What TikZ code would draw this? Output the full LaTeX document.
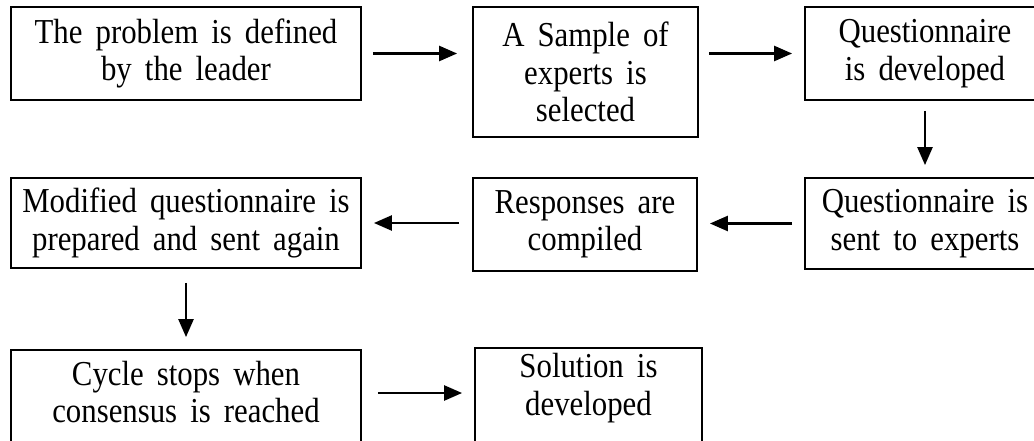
\documentclass[tikz,border=0pt]{standalone}
\usepackage{fontspec}
\setmainfont{Liberation Serif}[FakeStretch=0.88,WordSpace=1.7]
\usetikzlibrary{arrows.meta,calc}
\begin{document}
\begin{tikzpicture}[x=1pt,y=-1pt,
  stepbox/.style={draw=black, line width=1.8pt, inner sep=0pt, align=center,
    font=\fontsize{35}{37.5}\selectfont},
  steptext/.style={inner sep=0pt, align=center, font=\fontsize{35}{37.5}\selectfont},
  flow/.style={-{Triangle[length=18pt,width=15pt]}, line width=2.5pt}]
\useasboundingbox (0,0) rectangle (1034,441);
\clip (0,0) rectangle (1034,441);

% first row
\node[stepbox, minimum width=350pt, minimum height=93pt] (define) at (186,53.5)
  {The problem is defined\\by the leader};
\node[stepbox, minimum width=225pt, minimum height=130pt] (sample) at (585.5,72)
  {A Sample of\\experts is\\selected};
\node[stepbox, minimum width=240pt, minimum height=93pt] (quest) at (925,53.5)
  {Questionnaire\\is developed};

% second row
\node[stepbox, minimum width=240pt, minimum height=91pt] (sent) at (925,223.5)
  {Questionnaire is\\sent to experts};
\node[stepbox, minimum width=224pt, minimum height=93pt] (responses) at (585,224.5)
  {Responses are\\compiled};
\node[stepbox, minimum width=350pt, minimum height=90pt] (modified) at (186,223)
  {Modified questionnaire is\\prepared and sent again};

% third row: boxes run past the lower edge
\node[stepbox, minimum width=350pt, minimum height=120pt] (cycle) at (186,410) {};
\node[steptext] (cyctxt) at (186,392) {Cycle stops when\\consensus is reached};
\node[stepbox, minimum width=227pt, minimum height=120pt] (solution) at (588.5,408) {};
\node[steptext] (soltxt) at (588.5,388) {Solution is\\developed};

% connectors
\draw[flow] ($(define.east)+(11,0)$) -- ($(define.east -| sample.west)+(-15,0)$);
\draw[flow] ($(sample.east |- quest.west)+(10,0)$) -- ($(quest.west)+(-12,0)$);
\draw[flow] ($(quest.south)+(0,10)$) -- ($(sent.north)+(0,-12)$);
\draw[flow] ($(sent.west)+(-12,0)$) -- ($(sent.west -| responses.east)+(12,0)$);
\draw[flow] ($(responses.west |- modified.east)+(-13,0)$) -- ($(modified.east)+(12,0)$);
\draw[flow] ($(modified.south)+(0,14)$) -- ($(cycle.north)+(0,-12)$);
\draw[flow] ($(cycle.east |- cyctxt.center)+(16,1)$) -- ($(solution.west |- cyctxt.center)+(-12,1)$);
\end{tikzpicture}
\end{document}
